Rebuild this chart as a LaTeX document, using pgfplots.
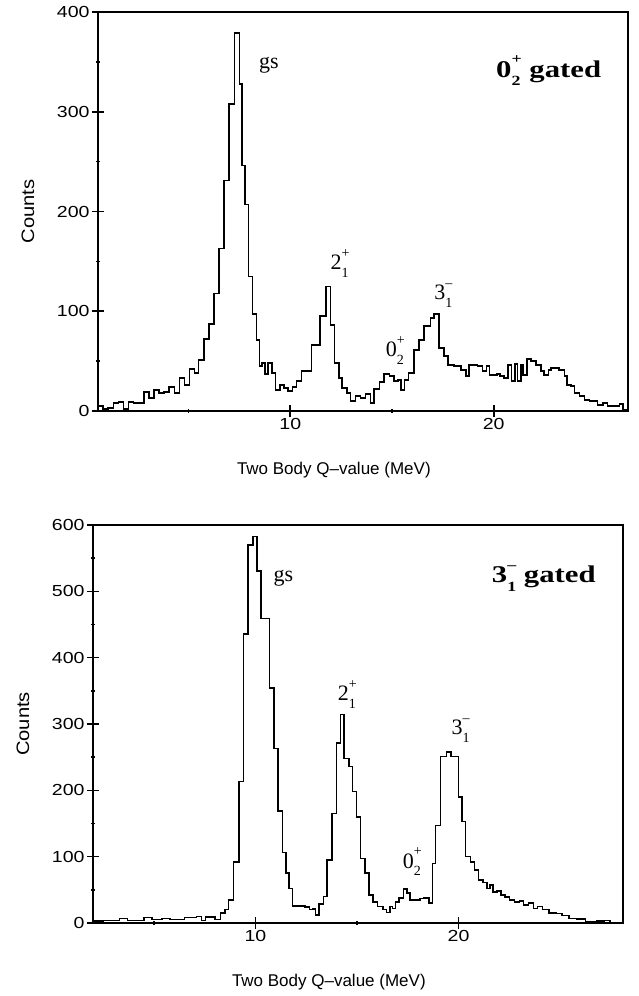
\documentclass[border=0pt]{standalone}
\usepackage{pgfplots}
\pgfplotsset{compat=1.18}
\usepackage{fontspec}
\setmainfont{Liberation Sans}
\newfontfamily\tms{Liberation Serif}
\newfontfamily\tmsw[FakeStretch=1.28]{Liberation Serif}
\newfontfamily\tickfont[FakeStretch=1.22]{Liberation Sans}
\newfontfamily\lblfont[FakeStretch=1.12]{Liberation Sans}
\newcommand{\lvl}[3]{#1\rlap{\raisebox{-0.36em}{\fontsize{14pt}{14pt}\selectfont #2}}\raisebox{0.55em}{\fontsize{14pt}{14pt}\selectfont #3}}

\pgfplotstableread{
E c
0.55 5
0.8 2
1.05 3
1.3 8
1.55 9
1.8 2
2.05 9
2.3 8
2.55 8
2.8 19
3.05 13
3.3 21
3.55 18
3.8 19
4.05 24
4.3 18
4.55 33
4.8 26
5.05 42
5.3 38
5.5 51
5.75 72
6.0 87
6.25 118
6.5 163
6.75 231
7.0 308
7.25 379
7.5 328
7.62 246
7.78 207
7.95 135
8.15 97
8.35 71
8.5 45
8.62 48
8.75 37
8.9 48
9.1 38
9.28 21
9.5 26
9.7 23
9.9 20
10.1 24
10.3 30
10.55 40
11.05 66
11.45 95
11.75 125
11.98 86
12.17 48
12.39 33
12.55 23
12.78 18
12.96 10
13.2 15
13.45 13
13.7 17
13.95 8
14.11 22
14.39 29
14.6 37
14.88 35
15.1 30
15.3 31
15.45 21
15.62 31
15.8 38
16.08 61
16.33 71
16.57 85
16.9 93
17.07 97
17.31 63
17.56 55
17.76 46
18.05 45
18.38 41
18.63 35
18.79 46
19.2 45
19.45 40
19.65 45
19.8 36
20.15 37
20.32 35
20.5 33
20.7 46
20.88 30
21.04 47
21.17 30
21.34 46
21.45 36
21.63 52
21.83 50
22.07 46
22.32 40
22.48 36
22.68 41
22.81 43
23.22 41
23.47 35
23.6 26
23.8 25
23.96 18
24.21 15
24.46 11
24.7 10
25.11 6
25.36 8
25.6 5
25.93 5
26.18 7
26.35 1
26.6 1
}\topdata

\pgfplotstableread{
E c
2.0 3
2.5 4
3.3 7
3.7 4
4.5 8
4.9 5
5.4 7
5.8 5
6.5 8
7.1 10
7.35 4
7.55 9
8.0 5
8.27 15
8.5 20
8.68 35
8.93 92
9.18 213
9.42 436
9.64 570
9.88 583
10.08 531
10.28 459
10.7 354
10.92 263
11.12 169
11.32 106
11.5 75
11.65 52
11.82 26
12.45 24
12.65 20
12.82 21
12.95 12
13.12 29
13.34 40
13.53 95
13.78 165
13.99 271
14.19 314
14.35 248
14.6 236
14.77 198
14.98 160
15.18 97
15.4 75
15.59 42
15.8 32
16.0 25
16.29 20
16.45 16
16.62 25
16.75 22
16.9 32
17.06 38
17.28 51
17.47 45
17.62 35
18.1 37
18.3 38
18.54 30
18.71 90
18.87 147
19.12 251
19.42 258
19.62 251
20.0 190
20.18 153
20.35 100
20.58 92
20.78 80
20.98 65
21.2 61
21.4 52
21.55 57
21.7 47
21.9 48
22.1 42
22.3 39
22.5 35
22.75 32
23.0 33
23.2 27
23.45 30
23.7 22
23.9 25
24.13 20
24.45 15
24.8 14
25.1 11
25.45 7
25.8 6
26.25 2
26.8 3
27.2 4
27.45 0
28.1 0
}\botdata

\pgfplotsset{
  spec/.style={
    scale only axis, width=530pt,
    axis line style={line width=1.8pt},
    tick style={line width=1.6pt, black},
    tick align=center,
    major tick length=12pt,
    minor tick length=4pt,
    xtick pos=bottom, ytick pos=left,
    xtick={10,20}, minor xtick={5,15},
    tick label style={font=\tickfont\fontsize{16pt}{16pt}\selectfont},
    yticklabel style={xshift=1pt},
    xticklabel style={yshift=2pt},
    /pgf/number format/assume math mode=true,
    xlabel={Two Body Q--value (MeV)},
    ylabel={Counts},
    xlabel style={font=\fontsize{17pt}{17pt}\selectfont, at={(axis description cs:0.445,-0.148)}, anchor=center},
    ylabel style={font=\lblfont\fontsize{18pt}{18pt}\selectfont, at={(axis description cs:-0.132,0.5)}, anchor=center},
  },
}
\tikzset{
  ann/.style={font=\tms\fontsize{22pt}{22pt}\selectfont},
  gated/.style={font=\tmsw\bfseries\fontsize{24pt}{24pt}\selectfont},
}

\begin{document}
\begin{tikzpicture}
\useasboundingbox (0,0) rectangle (639pt,996pt);
\begin{axis}[spec, at={(98pt,585pt)}, anchor=south west, height=399pt,
  xmin=0.55, xmax=26.6, ymin=0, ymax=400,
  ytick={0,100,200,300,400}, minor ytick={50,150,250,350}]
\addplot[const plot, black, line width=1.5pt] table[x=E,y=c] {\topdata};
\node[ann] at (axis cs:8.95,347) {gs};
\node[ann] at (axis cs:12.45,148) {\lvl{2}{1}{+}};
\node[ann] at (axis cs:17.52,116) {\lvl{3}{1}{–}};
\node[ann] at (axis cs:15.16,61) {\lvl{0}{2}{+}};
\node[gated] at (axis cs:22.7,341) {\lvl{0}{2}{+} gated};
\end{axis}
\begin{axis}[spec, at={(93pt,73pt)}, anchor=south west, height=398pt,
  xmin=2.0, xmax=28.1, ymin=0, ymax=600,
  ytick={0,100,200,300,400,500,600}, minor ytick={50,150,250,350,450,550}]
\addplot[const plot, black, line width=1.5pt] table[x=E,y=c] {\botdata};
\node[ann] at (axis cs:11.38,519) {gs};
\node[ann] at (axis cs:14.53,344) {\lvl{2}{1}{+}};
\node[ann] at (axis cs:20.1,290) {\lvl{3}{1}{–}};
\node[ann] at (axis cs:17.73,92) {\lvl{0}{2}{+}};
\node[gated] at (axis cs:24.2,519) {\lvl{3}{1}{–} gated};
\end{axis}
\end{tikzpicture}
\end{document}
